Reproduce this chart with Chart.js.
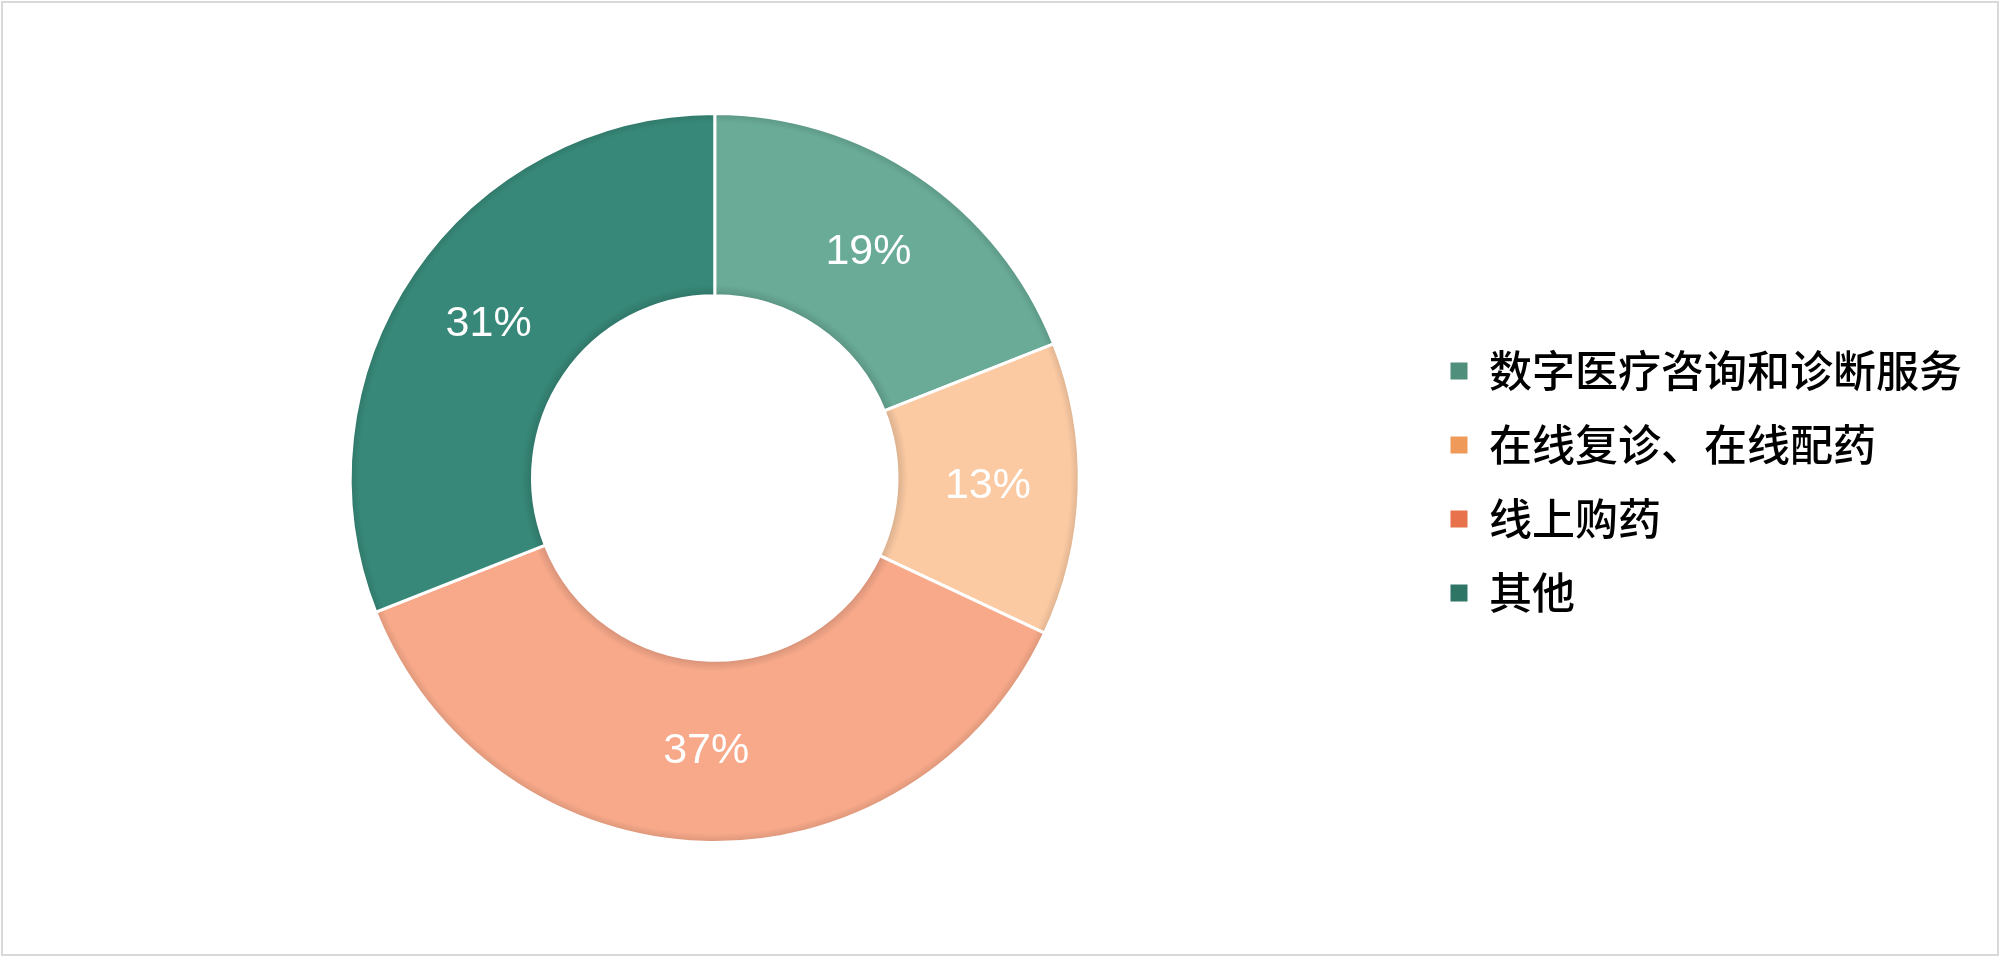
<!DOCTYPE html>
<html>
<head>
<meta charset="utf-8">
<script src="https://cdn.jsdelivr.net/npm/chart.js@4"></script>
<style>
  html, body { margin: 0; padding: 0; background: #fff; }
  #wrap { position: relative; width: 2000px; height: 957px; }
  #frame { position: absolute; left: 1px; top: 1px; right: 1px; bottom: 1px; border: 2px solid #d9d9d9; pointer-events: none; }
</style>
</head>
<body>
<div id="wrap">
  <canvas id="pie" width="2000" height="957"></canvas>
  <div id="frame"></div>
</div>
<script>
// data
const labels = ['数字医疗咨询和诊断服务', '在线复诊、在线配药', '线上购药', '其他'];
const shares = [19, 13, 37, 31];

// slice colours and the (stronger) legend marker colours
const sliceColors  = ['#69ab97', '#fbcaa3', '#f8a98a', '#378878'];
const legendColors = ['#4f8f7c', '#f09a5a', '#e8724c', '#2e7565'];

function shade(hex, f) {
    let n = parseInt(hex.slice(1), 16);
    let r = Math.round(((n >> 16) & 255) * f);
    let g = Math.round(((n >> 8) & 255) * f);
    let b = Math.round((n & 255) * f);
    return 'rgb(' + r + ',' + g + ',' + b + ')';
}

// soft darker rim on inner and outer edge, like the office shadow
function sliceFill(ctx) {
    let chart = ctx.chart;
    let base = sliceColors[ctx.dataIndex];
    let area = chart.chartArea;
    let ctrl = chart.getDatasetMeta(0).controller;
    if (!area || !ctrl || !ctrl.outerRadius) return base;
    let cx = (area.left + area.right) / 2;
    let cy = (area.top + area.bottom) / 2;
    let r0 = ctrl.innerRadius, r1 = ctrl.outerRadius;
    let g = chart.ctx.createRadialGradient(cx, cy, r0, cx, cy, r1);
    g.addColorStop(0, shade(base, 0.86));
    g.addColorStop(0.06, base);
    g.addColorStop(0.95, base);
    g.addColorStop(1, shade(base, 0.88));
    return g;
}

const pctLabels = {
    id: 'pctLabels',
    afterDatasetsDraw(chart) {
        const c = chart.ctx;
        const meta = chart.getDatasetMeta(0);
        c.save();
        c.fillStyle = '#ffffff';
        c.font = '43px "Liberation Sans", Arial, sans-serif';
        c.textAlign = 'center';
        c.textBaseline = 'middle';
        meta.data.forEach(function(arc, i) {
            const p = arc.tooltipPosition();
            c.fillText(shares[i] + '%', p.x, p.y);
        });
        c.restore();
    }
};

// legend sits a few px lower than the plot centre
const nudgeLegend = {
    id: 'nudgeLegend',
    afterLayout(chart) {
        chart.legend.top += 4;
        chart.legend.bottom += 4;
    }
};

new Chart(document.getElementById('pie'), {
    type: 'doughnut',
    data: {
        labels: labels,
        datasets: [{
            data: shares,
            backgroundColor: sliceFill,
            borderColor: '#ffffff',
            borderWidth: 3,
            hoverOffset: 0
        }]
    },
    options: {
        responsive: false,
        animation: false,
        cutout: '50%',
        layout: { padding: { top: 112, bottom: 113, left: 10, right: 28 } },
        plugins: {
            tooltip: { enabled: false },
            legend: {
                position: 'right',
                align: 'center',
                labels: {
                    boxWidth: 17,
                    boxHeight: 17,
                    padding: 31,
                    color: '#000000',
                    font: { family: '"Noto Sans CJK SC", sans-serif', size: 43, weight: 500 },
                    generateLabels(chart) {
                        return chart.data.labels.map(function(t, i) {
                            return {
                                text: t,
                                fillStyle: legendColors[i],
                                strokeStyle: legendColors[i],
                                lineWidth: 0,
                                hidden: false,
                                index: i
                            };
                        });
                    }
                }
            }
        }
    },
    plugins: [pctLabels, nudgeLegend]
});
</script>
</body>
</html>
